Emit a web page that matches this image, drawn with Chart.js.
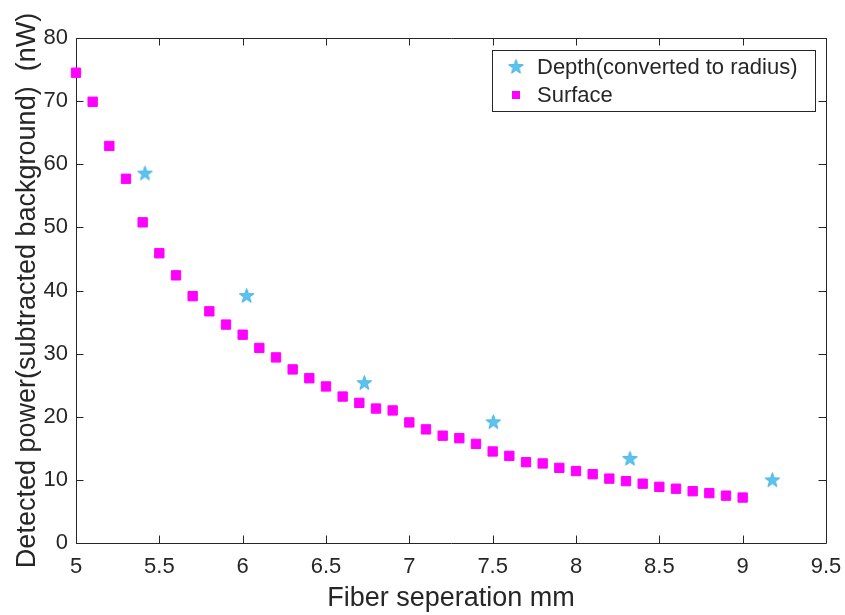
<!DOCTYPE html>
<html>
<head>
<meta charset="utf-8">
<script src="https://cdn.jsdelivr.net/npm/chart.js@4/dist/chart.umd.min.js"></script>
<style>
  html, body { margin: 0; padding: 0; background: #ffffff; }
  #wrap { width: 845px; height: 615px; }
</style>
</head>
<body>
<div id="wrap"><canvas id="c" width="845" height="615"></canvas></div>
<script>
// Surface scan: fiber separation (mm) vs detected power (nW)
const surfaceSep = [5.0, 5.1, 5.2, 5.3, 5.4, 5.5, 5.6, 5.7, 5.8, 5.9,
                    6.0, 6.1, 6.2, 6.3, 6.4, 6.5, 6.6, 6.7, 6.8, 6.9,
                    7.0, 7.1, 7.2, 7.3, 7.4, 7.5, 7.6, 7.7, 7.8, 7.9,
                    8.0, 8.1, 8.2, 8.3, 8.4, 8.5, 8.6, 8.7, 8.8, 8.9, 9.0];
const surfacePower = [74.5, 69.9, 62.9, 57.7, 50.8, 45.9, 42.4, 39.1, 36.7, 34.6,
                      33.0, 30.9, 29.4, 27.5, 26.1, 24.8, 23.2, 22.2, 21.3, 21.0,
                      19.1, 18.0, 17.0, 16.6, 15.7, 14.5, 13.8, 12.8, 12.6, 11.9,
                      11.4, 10.9, 10.2, 9.8, 9.4, 8.9, 8.6, 8.2, 7.9, 7.5, 7.2];

// Depth measurements converted to an equivalent radius
const depthSep = [5.414, 6.024, 6.730, 7.504, 8.324, 9.178];
const depthPower = [58.6, 39.2, 25.4, 19.2, 13.4, 10.0];

const xTicks = [5, 5.5, 6, 6.5, 7, 7.5, 8, 8.5, 9, 9.5];
const yTicks = [0, 10, 20, 30, 40, 50, 60, 70, 80];

const seriesNames = ['Depth(converted to radius)', 'Surface'];
const xTitle = 'Fiber seperation mm';
const yTitle = 'Detected power(subtracted background)  (nW)';

const FONT = '"Liberation Sans", Arial, Helvetica, sans-serif';
const INK = '#262626';
const STAR_FILL = '#5cc3ee';
const STAR_EDGE = '#47b2e3';
const SQUARE = '#ff00ff';

function makeStar(size) {
  const c = document.createElement('canvas');
  c.width = c.height = size;
  const g = c.getContext('2d');
  const cx = size / 2, cy = size / 2 + 0.6;
  const R = size / 2 - 0.8, r = R * 0.40;
  g.beginPath();
  for (let i = 0; i < 10; i++) {
    const a = -Math.PI / 2 + i * Math.PI / 5;
    const rr = i % 2 ? r : R;
    g.lineTo(cx + rr * Math.cos(a), cy + rr * Math.sin(a));
  }
  g.closePath();
  g.fillStyle = STAR_FILL;
  g.fill();
  g.strokeStyle = STAR_EDGE;
  g.lineWidth = 1;
  g.stroke();
  return c;
}
const starImg = makeStar(17);

const surfacePoints = surfaceSep.map((x, i) => ({ x, y: surfacePower[i] }));
const depthPoints = depthSep.map((x, i) => ({ x, y: depthPower[i] }));

// Box around the plot area with inward tick marks on all four sides
const boxTicks = {
  id: 'boxTicks',
  beforeDatasetsDraw(chart) {
    const { ctx, chartArea: a, scales } = chart;
    const L = 7.5;
    ctx.save();
    ctx.strokeStyle = INK;
    ctx.lineWidth = 1;
    ctx.beginPath();
    ctx.rect(Math.round(a.left) + 0.5, Math.round(a.top) + 0.5,
             Math.round(a.right - a.left), Math.round(a.bottom - a.top));
    xTicks.forEach(v => {
      const px = Math.round(scales.x.getPixelForValue(v)) + 0.5;
      ctx.moveTo(px, a.bottom); ctx.lineTo(px, a.bottom - L);
      ctx.moveTo(px, a.top); ctx.lineTo(px, a.top + L);
    });
    yTicks.forEach(v => {
      const py = Math.round(scales.y.getPixelForValue(v)) + 0.5;
      ctx.moveTo(a.left, py); ctx.lineTo(a.left + L, py);
      ctx.moveTo(a.right, py); ctx.lineTo(a.right - L, py);
    });
    ctx.stroke();
    ctx.restore();
  }
};

// Legend box in the upper right of the plot area
const boxLegend = {
  id: 'boxLegend',
  afterDraw(chart) {
    const { ctx } = chart;
    const bx = 492, by = 50, bw = 323, bh = 61;
    ctx.save();
    ctx.fillStyle = '#ffffff';
    ctx.fillRect(bx, by, bw, bh);
    ctx.strokeStyle = INK;
    ctx.lineWidth = 1;
    ctx.strokeRect(bx + 0.5, by + 0.5, bw, bh);
    const mx = 516, tx = 537;
    const rows = [66.5, 95];
    ctx.drawImage(starImg, mx - starImg.width / 2, rows[0] - starImg.height / 2);
    ctx.fillStyle = SQUARE;
    ctx.fillRect(mx - 4, rows[1] - 4, 8, 8);
    ctx.fillStyle = INK;
    ctx.font = '22px ' + FONT;
    ctx.textBaseline = 'middle';
    ctx.textAlign = 'left';
    ctx.fillText(seriesNames[0], tx, rows[0] + 1);
    ctx.fillText(seriesNames[1], tx, rows[1] + 1);
    ctx.restore();
  }
};

new Chart(document.getElementById('c'), {
  type: 'scatter',
  data: {
    datasets: [
      {
        label: seriesNames[0],
        data: depthPoints,
        pointStyle: starImg,
        pointRadius: 8,
        clip: false,
        order: 1
      },
      {
        label: seriesNames[1],
        data: surfacePoints,
        pointStyle: 'rect',
        pointRadius: 6.6,
        pointBackgroundColor: SQUARE,
        pointBorderColor: SQUARE,
        pointBorderWidth: 1,
        clip: false,
        order: 2
      }
    ]
  },
  options: {
    responsive: false,
    animation: false,
    events: [],
    layout: { padding: { left: 0, top: 38, right: 19, bottom: 0 } },
    plugins: {
      legend: { display: false },
      tooltip: { enabled: false }
    },
    scales: {
      x: {
        type: 'linear',
        min: 5, max: 9.5,
        afterBuildTicks(s) { s.ticks = xTicks.map(v => ({ value: v })); },
        afterFit(s) { s.height = 72; s.paddingLeft = 0; s.paddingRight = 0; },
        grid: { display: false, drawTicks: false },
        border: { display: false },
        ticks: {
          color: INK, maxRotation: 0, autoSkip: false, padding: 11,
          font: { family: FONT, size: 22 },
          callback: v => String(v)
        },
        title: {
          display: true, text: xTitle, color: INK,
          font: { family: FONT, size: 27 },
          padding: { top: 0, bottom: 0 }
        }
      },
      y: {
        type: 'linear',
        min: 0, max: 80,
        afterBuildTicks(s) { s.ticks = yTicks.map(v => ({ value: v })); },
        afterFit(s) { s.width = 76; s.paddingTop = 0; s.paddingBottom = 0; },
        grid: { display: false, drawTicks: false },
        border: { display: false },
        ticks: {
          color: INK, autoSkip: false, padding: 8,
          font: { family: FONT, size: 22 },
          callback: v => String(v)
        },
        title: {
          display: true, text: yTitle, color: INK,
          font: { family: FONT, size: 27 },
          padding: { top: 11, bottom: 0 }
        }
      }
    }
  },
  plugins: [boxTicks, boxLegend]
});
</script>
</body>
</html>
